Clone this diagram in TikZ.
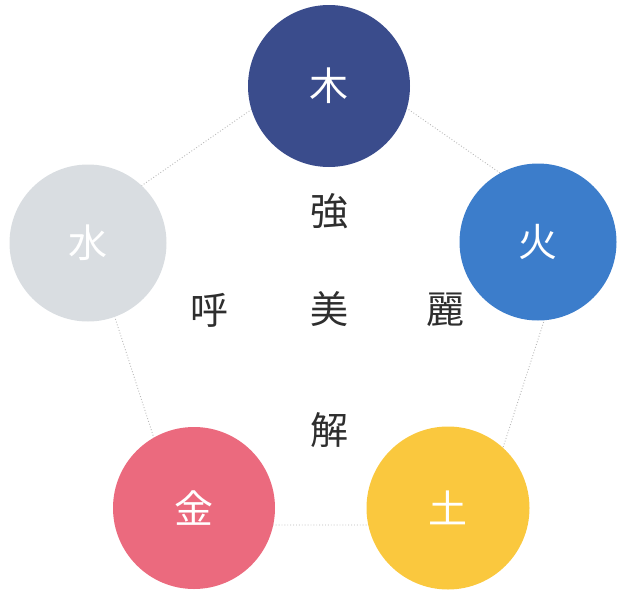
\documentclass[tikz,border=0pt]{standalone}
\usepackage{fontspec}
\newfontfamily\cjk{Noto Sans CJK JP}
\definecolor{wood}{HTML}{3A4C8C}
\definecolor{fire}{HTML}{3C7DCB}
\definecolor{earth}{HTML}{FAC83E}
\definecolor{metal}{HTML}{EB6A7E}
\definecolor{water}{HTML}{D9DDE1}
\definecolor{inkgray}{HTML}{2E2E2E}
\definecolor{dotgray}{HTML}{B8B8B8}
\tikzset{
  elem/.style={circle,minimum size=162pt,inner sep=0pt,text=white,font=\cjk\fontsize{39}{39}\selectfont},
  word/.style={inner sep=0pt,text=inkgray,font=\cjk\fontsize{38}{38}\selectfont},
  link/.style={draw=dotgray,line width=0.9pt,dotted}
}
\begin{document}
\begin{tikzpicture}[x=1pt,y=-1pt]
\useasboundingbox (0,0) rectangle (621,605);
% pentagon behind the circles
\coordinate (top) at (330,55);
\coordinate (right) at (575,225);
\coordinate (lowright) at (478,525);
\coordinate (lowleft) at (182,525);
\coordinate (left) at (85,225);
\draw[link] (top)--(right)--(lowright)--(lowleft)--(left)--cycle;
% five elements
\node[elem,fill=wood] (wood) at (329,86) {木};
\node[elem,fill=fire,minimum size=157pt] (fire) at (538,242) {火};
\node[elem,fill=earth,minimum size=163pt] (earth) at (448,508) {土};
\node[elem,fill=metal] (metal) at (194,508) {金};
\node[elem,fill=water,minimum size=157pt] (water) at (88,243) {水};
% words in the middle
\node[word] (strong) at (329.5,211.5) {強};
\node[word] (beauty) at (329.5,309.5) {美};
\node[word] (call) at (209.5,310) {呼};
\node[word] (grace) at (445.5,309.5) {麗};
\node[word] (solve) at (329.5,430.5) {解};
\end{tikzpicture}
\end{document}
